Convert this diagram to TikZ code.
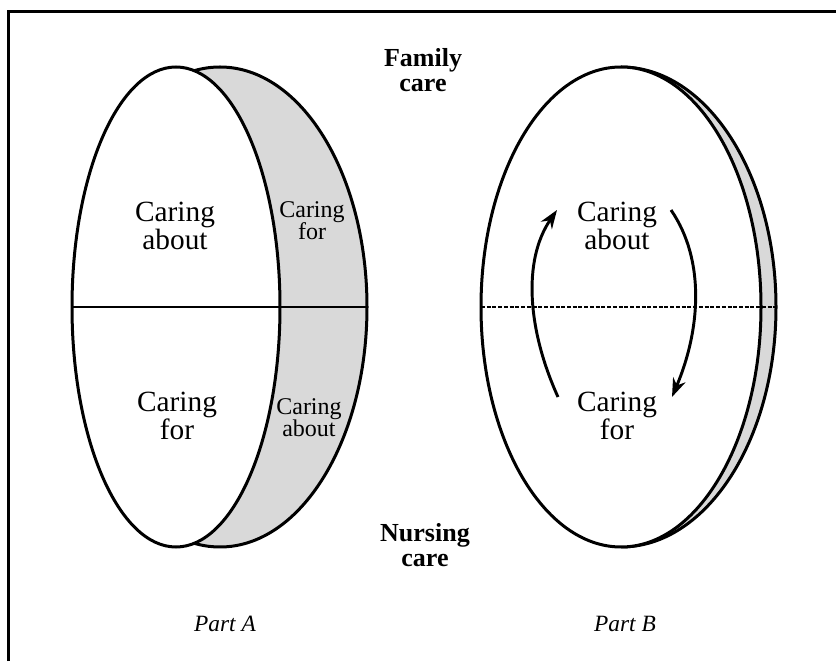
\documentclass[tikz,border=0pt]{standalone}
\usepackage{fontspec}
\setmainfont{Liberation Serif}
\usetikzlibrary{arrows.meta}
\definecolor{bandgray}{HTML}{D9D9D9}
\tikzset{
  band/.style={fill=bandgray, line width=2.25pt},
  face/.style={fill=white, line width=2.25pt},
  rim/.style={line width=2.25pt},
  divider/.style={line width=1.6pt},
  bigtxt/.style={font=\fontsize{22}{21}\selectfont, align=center, anchor=base, inner sep=0pt},
  smalltxt/.style={font=\fontsize{18}{17}\selectfont, align=center, anchor=base, inner sep=0pt},
  boldtxt/.style={font=\fontsize{19.5}{19}\selectfont\bfseries, align=center, anchor=base, inner sep=0pt},
  parttxt/.style={font=\fontsize{17.5}{18}\selectfont\itshape, anchor=base, inner sep=0pt},
  cyclearrow/.style={line width=2.2pt, -{Stealth[length=14pt,width=10pt]}},
  frameline/.style={line width=2.25pt}
}
\begin{document}
\begin{tikzpicture}[x=0.75pt,y=0.75pt]
\useasboundingbox (0,0) rectangle (836,661);
% frame
\coordinate (fbl) at (8.5,0);
\coordinate (ftl) at (8.5,649.5);
\coordinate (ftr) at (836,649.5);
\draw[frameline] (fbl) -- (ftl) -- (ftr);

% Part A
\draw[band] (220,354) ellipse [x radius=147, y radius=240];
\draw[face] (176,354) ellipse [x radius=104, y radius=240];
\coordinate (aL) at (72,354);
\coordinate (aR) at (367,354);
\draw[divider] (aL) -- (aR);

% Part B
\fill[bandgray] (621,594) arc[start angle=90, end angle=-90, x radius=155, y radius=240] -- cycle;
\draw[rim] (621,594) arc[start angle=90, end angle=-90, x radius=155, y radius=240];
\draw[face] (621,354) ellipse [x radius=140, y radius=240];
\coordinate (bL) at (481,354);
\coordinate (bR) at (776,354);
\draw[divider, dash pattern=on 3pt off 1.3pt] (bL) -- (bR);

% cycle arrows
\coordinate (up0) at (558,264);
\coordinate (up1) at (557,451);
\coordinate (dn0) at (671,451);
\coordinate (dn1) at (672,264);
\draw[cyclearrow] (up0) .. controls (528,330) and (522,400) .. (up1);
\draw[cyclearrow] (dn0) .. controls (706,400) and (700,330) .. (dn1);

% labels Part A (anchor at baseline of last line)
\node[bigtxt] (aTop) at (175,411) {Caring\\about};
\node[smalltxt] (aTopBand) at (312,421) {Caring\\for};
\node[bigtxt] (aBot) at (177,221) {Caring\\for};
\node[smalltxt] (aBotBand) at (309,224) {Caring\\about};

% labels Part B
\node[bigtxt] (bTop) at (617,411) {Caring\\about};
\node[bigtxt] (bBot) at (617,221) {Caring\\for};

% poles
\node[boldtxt] (family) at (423,569) {Family\\care};
\node[boldtxt] (nursing) at (425,94) {Nursing\\care};

% part captions
\node[parttxt] (partA) at (225,29) {Part A};
\node[parttxt] (partB) at (625,29) {Part B};
\end{tikzpicture}
\end{document}
